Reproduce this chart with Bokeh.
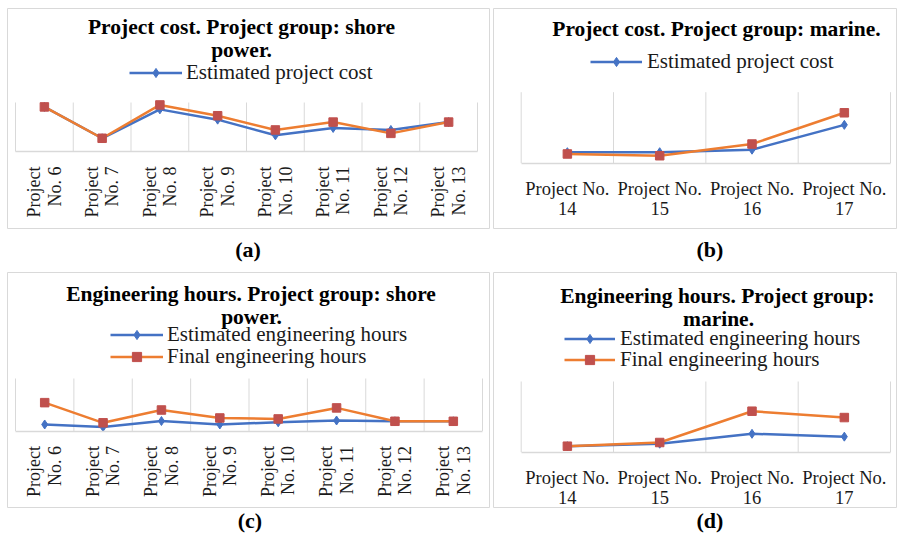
import math
from bokeh.plotting import figure
from bokeh.models import (Range1d, LinearAxis, FixedTicker, Label, Legend, LegendItem, Div,
                          Spacer, CustomJSTickFormatter)
from bokeh.layouts import column, row
from bokeh.embed import file_html
from bokeh.resources import INLINE

# ---------------- data ----------------
shore_projects = ["Project No. 6", "Project No. 7", "Project No. 8", "Project No. 9",
                  "Project No. 10", "Project No. 11", "Project No. 12", "Project No. 13"]
marine_projects = ["Project No. 14", "Project No. 15", "Project No. 16", "Project No. 17"]

cost_shore_estimated = [91, 27, 86, 65, 33, 48, 44, 60]
cost_shore_final = [91, 27, 95, 73, 44, 60, 37, 60]

cost_marine_estimated = [15.5, 15.5, 19, 54]
cost_marine_final = [13, 10.5, 27, 71]

hours_shore_estimated = [12.4, 7.6, 19, 12.4, 16.6, 20, 18.5, 18.5]
hours_shore_final = [54, 15.6, 40, 24.8, 23, 44, 18.5, 18.5]

hours_marine_estimated = [8.5, 12, 26, 22]
hours_marine_final = [8.5, 13.7, 58, 49]

# ---------------- style ----------------
SERIF = "Liberation Serif"
BLUE = "#4472C4"
ORANGE = "#ED7D31"
RED = "#C0504D"
GRID = "#d9d9d9"
TEXT = "#1a1a1a"
ROW_H = 23
VMAX = 100.0


def make_panel(box, plot, cats, est, fin, vertical, titles, legends):
    left, top, w, h = box
    L, R, T, B = plot
    n = len(cats)
    cw = (R - L) / n
    ppv = (B - T) / VMAX

    def dx(px):
        return (px - L) / cw - 0.5

    def dy(py):
        return (B - py) / ppv

    p = figure(width=w, height=h,
               x_range=Range1d(dx(left), dx(left + w)),
               y_range=Range1d(dy(top + h), dy(top)),
               x_axis_location=None, y_axis_location=None,
               toolbar_location=None, output_backend="svg", min_border=0)
    p.outline_line_color = GRID
    p.outline_line_width = 1
    p.background_fill_color = "white"
    p.border_fill_color = "white"
    p.xgrid.visible = False
    p.ygrid.visible = False

    idx = list(range(n))
    bounds = [i - 0.5 for i in range(n + 1)]
    p.segment(x0=bounds, y0=[0] * (n + 1), x1=bounds, y1=[VMAX] * (n + 1),
              line_color=GRID, line_width=1)

    if vertical:
        labels = [c.replace(" No.", "\nNo.") for c in cats]
    else:
        labels = [c.replace("No. ", "No.\n") for c in cats]
    fmt = CustomJSTickFormatter(args=dict(labels=labels), code="""
        const i = Math.round(tick);
        return (i >= 0 && i < labels.length) ? labels[i] : "";
    """)
    ax = LinearAxis(ticker=FixedTicker(ticks=idx), formatter=fmt,
                    fixed_location=0, bounds=(-0.5, n - 0.5))
    ax.axis_line_color = GRID
    ax.axis_line_width = 1.5
    ax.major_tick_line_color = None
    ax.minor_tick_line_color = None
    ax.major_label_text_font = SERIF
    ax.major_label_text_font_size = "18px" if vertical else "18.5px"
    ax.major_label_text_color = TEXT
    ax.major_label_text_line_height = 1.02 if vertical else 0.97
    ax.major_label_orientation = math.pi / 2 if vertical else "horizontal"
    ax.major_label_standoff = 9 if vertical else 10
    p.add_layout(ax, "below")

    bl = p.line(idx, est, line_color=BLUE, line_width=2.5)
    bm = p.scatter(idx, est, marker="diamond", size=9,
                   fill_color=BLUE, line_color=BLUE)
    ol = p.line(idx, fin, line_color=ORANGE, line_width=2.5)
    om = p.scatter(idx, fin, marker="square", size=8.5, fill_color=RED, line_color=RED)

    for text, cx, base in titles:
        p.add_layout(Label(x=dx(cx), y=dy(base - 7), text=text, text_align="center",
                           text_baseline="middle", text_font=SERIF,
                           text_font_style="bold", text_font_size="21.5px",
                           text_color="black"))

    series = {"est": [bl, bm], "fin": [ol, om]}
    for key, lab, gx, cy, gw, standoff in legends:
        leg = Legend(items=[LegendItem(label=lab, renderers=series[key])],
                     location=(gx - left, (top + h) - (cy + ROW_H / 2)),
                     padding=0, margin=0, spacing=0,
                     border_line_color=None, background_fill_alpha=0,
                     label_text_font=SERIF, label_text_font_size="21px",
                     label_text_color=TEXT, glyph_width=gw, glyph_height=ROW_H,
                     label_height=ROW_H, label_standoff=standoff)
        p.add_layout(leg)
    return p


def caption(text, width, height, center, pad):
    html = ('<div style="margin:0;margin-left:%dpx;width:80px;padding-top:%dpx;'
            'text-align:center;font-family:\'Liberation Serif\';font-weight:bold;'
            'font-size:22px;line-height:20px;color:black;">%s</div>' % (center - 40, pad, text))
    return Div(text=html, width=width, height=height, margin=0)


pa = make_panel((7, 8, 483, 221), (15, 477, 102, 151), shore_projects,
                cost_shore_estimated, cost_shore_final, True,
                [("Project cost. Project group: shore", 241, 33.5), ("power.", 241, 56.5)],
                [("est", "Estimated project cost", 129, 73.3, 53, 4)])

pb = make_panel((493, 8, 404, 221), (520.7, 890, 91.7, 162.7), marine_projects,
                cost_marine_estimated, cost_marine_final, False,
                [("Project cost. Project group: marine.", 716, 35)],
                [("est", "Estimated project cost", 590, 62.3, 52, 5)])

pc = make_panel((7, 272, 483, 236), (15, 482, 378, 430.5), shore_projects,
                hours_shore_estimated, hours_shore_final, True,
                [("Engineering hours. Project group: shore", 250.5, 300.7), ("power.", 251, 323.3)],
                [("est", "Estimated engineering hours", 110, 335.7, 53, 4),
                 ("fin", "Final engineering hours", 110, 357.3, 53, 4)])

pd = make_panel((493, 272, 404, 236), (520.7, 890, 381, 451.7), marine_projects,
                hours_marine_estimated, hours_marine_final, False,
                [("Engineering hours. Project group:", 717, 302.3), ("marine.", 718, 325)],
                [("est", "Estimated engineering hours", 564, 339, 51, 5),
                 ("fin", "Final engineering hours", 564, 360.7, 51, 5)])

ca = caption("(a)", 493, 43, 248, 11)
cb = caption("(b)", 404, 43, 217, 11)
cc = caption("(c)", 493, 23, 250, 3)
cd = caption("(d)", 404, 23, 217, 3)

layout = column(Spacer(width=897, height=8),
                row(Spacer(width=7, height=221), pa, Spacer(width=3, height=221), pb),
                row(ca, cb),
                row(Spacer(width=7, height=236), pc, Spacer(width=3, height=236), pd),
                row(cc, cd))

open("out.html", "w").write(file_html(layout, INLINE))
